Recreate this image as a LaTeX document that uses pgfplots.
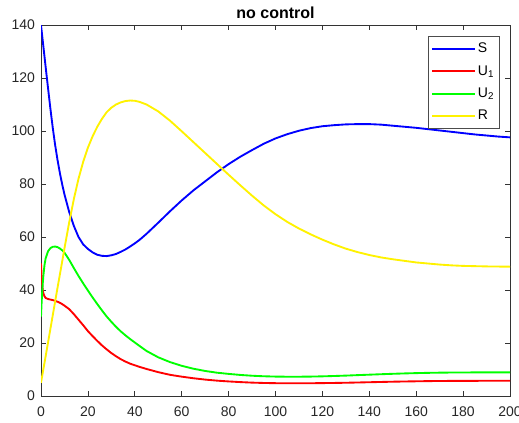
\documentclass[border=0pt]{standalone}
\usepackage{pgfplots}
\pgfplotsset{compat=1.18}
\usepackage{pgfplotstable}
\usepackage{fontspec}
\setmainfont{Liberation Sans}
\pgfplotstableread{
t S U1 U2 R
0 140 50 30 5
0.25 138 45.5 35 6.3
0.5 136 42 39 7.5
0.75 134 40 42.5 8.8
1 132 38.8 45.3 10.1
1.5 128 37.6 49.5 12.6
2 124 37.0 52.0 15.1
3 116.2 36.6 54.6 20.2
4 108.5 36.4 55.8 25.3
5 101.3 36.2 56.3 30.4
6 94.9 35.9 56.4 35.5
7 89.3 35.6 56.2 40.6
8 84.4 35.2 55.7 45.6
9 80.0 34.7 55.0 50.6
10 76.1 34.1 54.1 55.7
12 69.5 32.8 51.4 65.4
14 64.2 30.9 48.3 74.3
16 60.0 28.8 45.3 82.0
18 57.2 26.7 42.5 88.4
20 55.5 24.5 39.8 93.7
22 54.2 22.6 37.2 98.0
24 53.3 20.8 34.7 101.6
26 52.9 19.1 32.3 104.6
28 52.8 17.6 30.0 107.1
30 53.1 16.2 28.0 108.8
32 53.6 15.0 26.1 110.0
34 54.4 13.9 24.4 110.8
36 55.3 13.0 22.9 111.3
38 56.4 12.2 21.5 111.5
40 57.6 11.6 20.2 111.4
42 58.9 11.0 18.9 111.0
45 61.2 10.2 17.0 110.0
50 65.4 9.0 14.6 107.4
55 69.7 8.0 12.8 103.9
60 73.8 7.3 11.4 99.9
65 77.6 6.7 10.3 95.8
70 81.0 6.2 9.45 91.7
75 84.4 5.8 8.8 87.6
80 87.5 5.5 8.35 83.5
85 90.3 5.25 7.95 79.5
90 92.8 5.05 7.65 75.6
95 95.2 4.92 7.45 71.9
100 97.2 4.84 7.33 68.6
105 98.8 4.8 7.28 65.7
110 100.1 4.8 7.28 63.2
115 101.1 4.82 7.33 61.0
120 101.8 4.87 7.42 59.0
125 102.2 4.93 7.55 57.2
130 102.5 5.0 7.7 55.6
135 102.6 5.1 7.88 54.3
140 102.6 5.2 8.05 53.2
145 102.4 5.3 8.22 52.3
150 102.0 5.4 8.38 51.6
155 101.6 5.48 8.52 51.0
160 101.2 5.55 8.64 50.4
165 100.7 5.62 8.74 50.0
170 100.2 5.67 8.81 49.6
175 99.7 5.7 8.86 49.3
180 99.2 5.72 8.89 49.1
185 98.7 5.73 8.9 49.0
190 98.3 5.74 8.91 48.9
195 97.9 5.74 8.91 48.85
200 97.6 5.74 8.91 48.8
}\data
\begin{document}
\begin{tikzpicture}
\begin{axis}[
  name=ax,
  scale only axis,
  width=351.75pt, height=278.25pt,
  xmin=0, xmax=200, ymin=0, ymax=140,
  xtick={0,20,...,200}, ytick={0,20,...,140},
  tick pos=both, tick align=inside,
  major tick length=3.5pt,
  axis line style={black!80, line width=0.5pt},
  every tick/.style={black!80, line width=0.5pt},
  tick label style={font=\fontsize{10.5}{12}\selectfont, text=black!85},
  /pgf/number format/assume math mode=true,
  xticklabel style={yshift=-4.75pt},
  yticklabel style={xshift=-1pt},
  title={no control},
  title style={at={(0.5,1)}, anchor=base, yshift=-0.75pt, font=\bfseries\fontsize{12}{14}\selectfont},
  legend style={at={(0.977,0.97)}, anchor=north east, draw=black!70, line width=0.5pt,
    font=\fontsize{10.5}{12}\selectfont, row sep=5pt, inner xsep=2pt, inner ysep=3.5pt,
    nodes={inner sep=1.5pt, anchor=west}},
  legend cell align=left,
  legend image code/.code={\draw[#1] (0pt,0pt) -- (32pt,0pt);},
  every axis plot/.append style={line width=1.4pt, line join=round},
]
\addplot[blue] table[x=t, y=S] {\data};
\addlegendentry{S}
\addplot[red] table[x=t, y=U1] {\data};
\addlegendentry{U\textsubscript{1}}
\addplot[green] table[x=t, y=U2] {\data};
\addlegendentry{U\textsubscript{2}}
\addplot[yellow] table[x=t, y=R] {\data};
\addlegendentry{R}
\end{axis}
\pgfresetboundingbox
\path ([xshift=-30.75pt,yshift=-19.5pt]ax.south west) rectangle ([xshift=6.75pt,yshift=18.75pt]ax.north east);
\end{tikzpicture}
\end{document}
